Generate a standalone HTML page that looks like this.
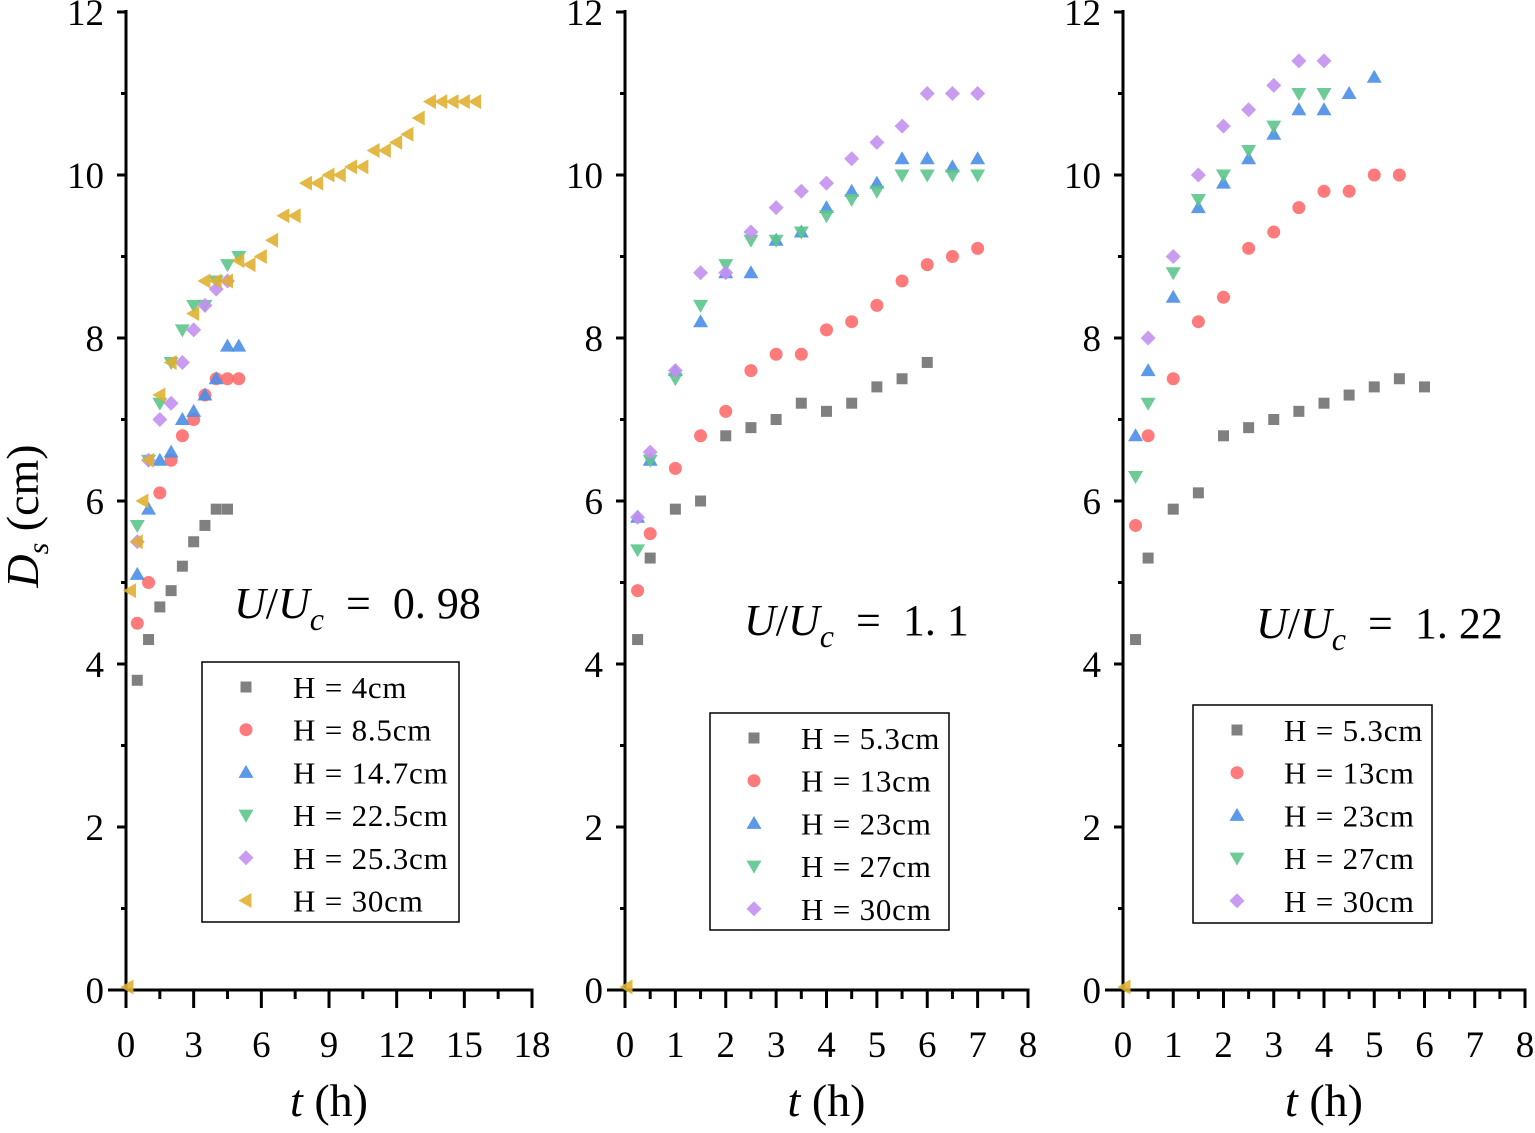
<!DOCTYPE html>
<html><head><meta charset="utf-8"><style>
html,body{margin:0;padding:0;background:#fff}
svg{display:block}
text{font-family:"Liberation Serif",serif;fill:#000}
</style></head><body>
<svg id="chart" width="1535" height="1133" viewBox="0 0 1535 1133" xmlns="http://www.w3.org/2000/svg"></svg>
<script>
// ---- data ----
const p1Series = ["H = 4cm","H = 8.5cm","H = 14.7cm","H = 22.5cm","H = 25.3cm","H = 30cm"];
const p1_4_t = [0.5,1,1.5,2,2.5,3,3.5,4,4.5];
const p1_4_d = [3.8,4.3,4.7,4.9,5.2,5.5,5.7,5.9,5.9];
const p1_85_t = [0.5,1,1.5,2,2.5,3,3.5,4,4.5,5];
const p1_85_d = [4.5,5.0,6.1,6.5,6.8,7.0,7.3,7.5,7.5,7.5];
const p1_147_t = [0.5,1,1.5,2,2.5,3,3.5,4,4.5,5];
const p1_147_d = [5.1,5.9,6.5,6.6,7.0,7.1,7.3,7.5,7.9,7.9];
const p1_225_t = [0.5,1,1.5,2,2.5,3,3.5,4,4.5,5];
const p1_225_d = [5.7,6.5,7.2,7.7,8.1,8.4,8.4,8.7,8.9,9.0];
const p1_253_t = [0.5,1,1.5,2,2.5,3,3.5,4,4.5];
const p1_253_d = [5.5,6.5,7.0,7.2,7.7,8.1,8.4,8.6,8.7];
const p1_30_t = [0.2,0.5,0.75,1,1.5,2,3,3.5,4,4.5,5,5.5,6,6.5,7,7.5,8,8.5,9,9.5,10,10.5,11,11.5,12,12.5,13,13.5,14,14.5,15,15.5];
const p1_30_d = [4.9,5.5,6.0,6.5,7.3,7.7,8.3,8.7,8.7,8.7,8.95,8.9,9.0,9.2,9.5,9.5,9.9,9.9,10.0,10.0,10.1,10.1,10.3,10.3,10.4,10.5,10.7,10.9,10.9,10.9,10.9,10.9];

const p2Series = ["H = 5.3cm","H = 13cm","H = 23cm","H = 27cm","H = 30cm"];
const p2_t = [0.25,0.5,1,1.5,2,2.5,3,3.5,4,4.5,5,5.5,6,6.5,7];
const p2_53_d = [4.3,5.3,5.9,6.0,6.8,6.9,7.0,7.2,7.1,7.2,7.4,7.5,7.7];
const p2_13_d = [4.9,5.6,6.4,6.8,7.1,7.6,7.8,7.8,8.1,8.2,8.4,8.7,8.9,9.0,9.1];
const p2_23_d = [5.8,6.5,7.6,8.2,8.8,8.8,9.2,9.3,9.6,9.8,9.9,10.2,10.2,10.1,10.2];
const p2_27_d = [5.4,6.5,7.5,8.4,8.9,9.2,9.2,9.3,9.5,9.7,9.8,10.0,10.0,10.0,10.0];
const p2_30_d = [5.8,6.6,7.6,8.8,8.8,9.3,9.6,9.8,9.9,10.2,10.4,10.6,11.0,11.0,11.0];

const p3Series = ["H = 5.3cm","H = 13cm","H = 23cm","H = 27cm","H = 30cm"];
const p3_t = [0.25,0.5,1,1.5,2,2.5,3,3.5,4,4.5,5,5.5,6];
const p3_53_d = [4.3,5.3,5.9,6.1,6.8,6.9,7.0,7.1,7.2,7.3,7.4,7.5,7.4];
const p3_13_d = [5.7,6.8,7.5,8.2,8.5,9.1,9.3,9.6,9.8,9.8,10.0,10.0];
const p3_23_d = [6.8,7.6,8.5,9.6,9.9,10.2,10.5,10.8,10.8,11.0,11.2];
const p3_27_d = [6.3,7.2,8.8,9.7,10.0,10.3,10.6,11.0,11.0];
const p3_30_t = [0.5,1,1.5,2,2.5,3,3.5,4];
const p3_30_d = [8.0,9.0,10.0,10.6,10.8,11.1,11.4,11.4];

const yTicks = [0,2,4,6,8,10,12];
const p1XTicks = [0,3,6,9,12,15,18];
const p23XTicks = [0,1,2,3,4,5,6,7,8];

// ---- drawing ----
const svg = document.getElementById('chart');
const NS = 'http://www.w3.org/2000/svg';
function el(tag, attrs, parent){const e=document.createElementNS(NS,tag);for(const k in attrs)e.setAttribute(k,attrs[k]);(parent||svg).appendChild(e);return e;}
const colors = {sq:'#808080',ci:'#ff6b6b',up:'#4a8ee6',dn:'#5cc58c',di:'#c390f0',lt:'#e0b030'};
const Y0=990, YT=12;
function ys(v){return Y0 - v*(Y0-YT)/12;}

function marker(g,shape,x,y){
  const c=colors[shape]; let m;
  if(shape==='sq') m=el('rect',{x:x-5.5,y:y-5.5,width:11,height:11,fill:c},g);
  else if(shape==='ci') m=el('circle',{cx:x,cy:y,r:6.5,fill:c,'fill-opacity':0.9},g);
  else if(shape==='up') m=el('polygon',{points:`${x},${y-7.5} ${x-7.5},${y+5.5} ${x+7.5},${y+5.5}`,fill:c,'fill-opacity':0.9},g);
  else if(shape==='dn') m=el('polygon',{points:`${x},${y+7.5} ${x-7.5},${y-5.5} ${x+7.5},${y-5.5}`,fill:c,'fill-opacity':0.9},g);
  else if(shape==='di') m=el('polygon',{points:`${x},${y-7.5} ${x+7.5},${y} ${x},${y+7.5} ${x-7.5},${y}`,fill:c,'fill-opacity':0.9},g);
  else m=el('polygon',{points:`${x-7.5},${y} ${x+5.5},${y-7.5} ${x+5.5},${y+7.5}`,fill:c,'fill-opacity':0.9},g);
  
  
}

function panel(id,x0,x1,xmax,xTicks,minorStep,series,legend,ann){
  const g=el('g',{});  
  const xs=v=>x0+v*(x1-x0)/xmax;
  const ax=el('line',{x1:x0,y1:YT-2,x2:x0,y2:Y0+1.5,stroke:'#000','stroke-width':3},g);
   
  const bx=el('line',{x1:x0-18,y1:Y0,x2:x1+1.5,y2:Y0,stroke:'#000','stroke-width':3},g);
   
  yTicks.forEach(v=>{
    el('line',{x1:x0-9,y1:ys(v),x2:x0,y2:ys(v),stroke:'#000','stroke-width':3},g);
    if(v<12) el('line',{x1:x0-5,y1:ys(v+1),x2:x0,y2:ys(v+1),stroke:'#000','stroke-width':3},g);
    const t=el('text',{x:x0-22,y:ys(v)+13,'font-size':37,'text-anchor':'end'},g); t.textContent=v;
     
  });
  xTicks.forEach((v,i)=>{
    el('line',{x1:xs(v),y1:Y0,x2:xs(v),y2:Y0+18,stroke:'#000','stroke-width':3},g);
    if(i<xTicks.length-1) el('line',{x1:xs(v+minorStep),y1:Y0,x2:xs(v+minorStep),y2:Y0+9,stroke:'#000','stroke-width':3},g);
    const t=el('text',{x:xs(v),y:1057,'font-size':37,'text-anchor':'middle'},g); t.textContent=v;
     
  });
  const xt=el('text',{x:(x0+x1)/2,y:1116,'font-size':46,'text-anchor':'middle'},g);
  xt.innerHTML='<tspan font-style="italic">t</tspan> (h)';
   
  marker(g,'lt',xs(0)+2,Y0-3);
  series.forEach(s=>{s.d.forEach((v,i)=>marker(g,s.shape,xs(s.t[i]),ys(v)));});
  const an=el('text',{x:ann[0],y:ann[1],'font-size':44},g);
  an.innerHTML=`<tspan font-style="italic">U</tspan>/<tspan font-style="italic">U</tspan><tspan font-style="italic" font-size="32" dy="12">c</tspan><tspan dy="-12"> \u00a0=\u00a0 ${ann[2]}</tspan>`;
   
  const [lx,ly,lw,lh]=legend;
  const lg=el('g',{},g);  
  el('rect',{x:lx,y:ly,width:lw,height:lh,fill:'#fff',stroke:'#000','stroke-width':1.5},lg);
  series.forEach((s,i)=>{
    const cy=ly+25+i*42.7;
    marker(lg,s.shape,lx+44,cy);
    const t=el('text',{x:lx+91,y:cy+11,'font-size':31,'letter-spacing':'0.8'},lg); t.textContent=s.name;
     
  });
}

panel('panel-u098',126,532,18,p1XTicks,1.5,[
  {name:p1Series[0],shape:'sq',t:p1_4_t,d:p1_4_d},
  {name:p1Series[1],shape:'ci',t:p1_85_t,d:p1_85_d},
  {name:p1Series[2],shape:'up',t:p1_147_t,d:p1_147_d},
  {name:p1Series[3],shape:'dn',t:p1_225_t,d:p1_225_d},
  {name:p1Series[4],shape:'di',t:p1_253_t,d:p1_253_d},
  {name:p1Series[5],shape:'lt',t:p1_30_t,d:p1_30_d}
],[202,662,257,260],[234,618,'0. 98']);

panel('panel-u11',625,1028,8,p23XTicks,0.5,[
  {name:p2Series[0],shape:'sq',t:p2_t,d:p2_53_d},
  {name:p2Series[1],shape:'ci',t:p2_t,d:p2_13_d},
  {name:p2Series[2],shape:'up',t:p2_t,d:p2_23_d},
  {name:p2Series[3],shape:'dn',t:p2_t,d:p2_27_d},
  {name:p2Series[4],shape:'di',t:p2_t,d:p2_30_d}
],[710,713,239,217],[744,635,'1. 1']);

panel('panel-u122',1123,1525,8,p23XTicks,0.5,[
  {name:p3Series[0],shape:'sq',t:p3_t,d:p3_53_d},
  {name:p3Series[1],shape:'ci',t:p3_t,d:p3_13_d},
  {name:p3Series[2],shape:'up',t:p3_t,d:p3_23_d},
  {name:p3Series[3],shape:'dn',t:p3_t,d:p3_27_d},
  {name:p3Series[4],shape:'di',t:p3_30_t,d:p3_30_d}
],[1193,705,239,218],[1256,638,'1. 22']);

const yl=el('text',{x:0,y:0,'font-size':46,'text-anchor':'middle',transform:'translate(38,516) rotate(-90)'});
yl.innerHTML='<tspan font-style="italic">D</tspan><tspan font-style="italic" font-size="30" dy="10">s</tspan><tspan dy="-10"> (cm)</tspan>';


</script>
</body></html>
